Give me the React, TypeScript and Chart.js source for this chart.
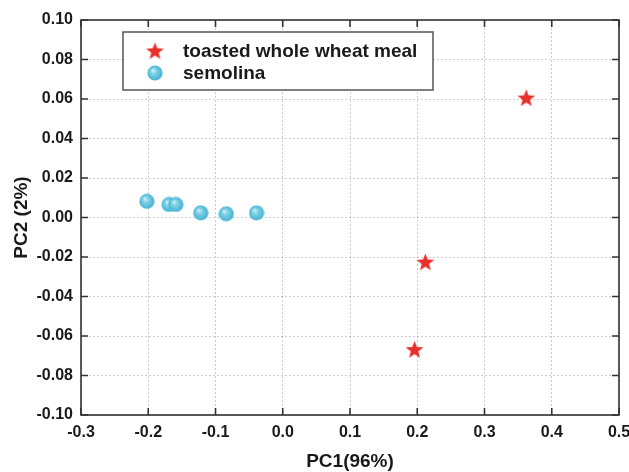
import React, { useEffect, useRef } from "react";
import { Chart, registerables } from "chart.js";

Chart.register(...registerables);

const toastedLabel = "toasted whole wheat meal";
const toastedX = [0.362, 0.212, 0.196];
const toastedY = [0.0605, -0.0226, -0.0669];

const semolinaLabel = "semolina";
const semolinaX = [-0.202, -0.169, -0.159, -0.122, -0.084, -0.039];
const semolinaY = [0.0082, 0.0066, 0.0066, 0.0024, 0.0019, 0.0024];

const xTitle = "PC1(96%)";
const yTitle = "PC2 (2%)";

const FONT = "'Liberation Sans', Arial, sans-serif";

function makeStar(): HTMLCanvasElement {
  const c = document.createElement("canvas");
  c.width = 19;
  c.height = 19;
  const ctx = c.getContext("2d")!;
  const cx = 9.5, cy = 10, R = 9.3, r = 3.9;
  ctx.beginPath();
  for (let i = 0; i < 10; i++) {
    const rad = i % 2 === 0 ? R : r;
    const a = -Math.PI / 2 + (i * Math.PI) / 5;
    const px = cx + rad * Math.cos(a);
    const py = cy + rad * Math.sin(a);
    if (i === 0) ctx.moveTo(px, py);
    else ctx.lineTo(px, py);
  }
  ctx.closePath();
  ctx.fillStyle = "#e8302a";
  ctx.fill();
  return c;
}

function makeBubble(): HTMLCanvasElement {
  const c = document.createElement("canvas");
  c.width = 16;
  c.height = 16;
  const ctx = c.getContext("2d")!;
  const g = ctx.createRadialGradient(6, 5.5, 0.5, 8, 8, 8);
  g.addColorStop(0, "#c9eef7");
  g.addColorStop(0.35, "#7ccfe4");
  g.addColorStop(1, "#40b1d1");
  ctx.beginPath();
  ctx.arc(8, 8, 7.6, 0, Math.PI * 2);
  ctx.fillStyle = g;
  ctx.fill();
  return c;
}

const framePlugin = {
  id: "frame",
  afterDatasetsDraw(chart: any) {
    const { ctx, chartArea } = chart;
    const { left, right, top, bottom } = chartArea;
    const xs = chart.scales.x;
    const ys = chart.scales.y;
    ctx.save();
    ctx.strokeStyle = "#333";
    ctx.lineWidth = 1.6;
    ctx.setLineDash([]);
    ctx.beginPath();
    const tl = 7;
    xs.ticks.forEach((t: any) => {
      const p = xs.getPixelForValue(t.value);
      ctx.moveTo(p, bottom);
      ctx.lineTo(p, bottom - tl);
      ctx.moveTo(p, top);
      ctx.lineTo(p, top + tl);
    });
    ys.ticks.forEach((t: any) => {
      const p = ys.getPixelForValue(t.value);
      ctx.moveTo(left, p);
      ctx.lineTo(left + tl, p);
      ctx.moveTo(right, p);
      ctx.lineTo(right - tl, p);
    });
    ctx.stroke();
    ctx.strokeRect(left, top, right - left, bottom - top);
    ctx.restore();
  },
  afterDraw(chart: any) {
    const { ctx, chartArea } = chart;
    const bx = chartArea.left + 42;
    const by = chartArea.top + 12;
    const bw = 310;
    const bh = 58;
    ctx.save();
    ctx.fillStyle = "#fff";
    ctx.fillRect(bx, by, bw, bh);
    ctx.strokeStyle = "#555";
    ctx.lineWidth = 1.5;
    ctx.strokeRect(bx, by, bw, bh);
    ctx.font = `bold 19px ${FONT}`;
    ctx.fillStyle = "#1a1a1a";
    ctx.textBaseline = "middle";
    ctx.textAlign = "left";
    chart.data.datasets.forEach((ds: any, i: number) => {
      const cy = by + 19 + i * 22;
      const img = ds.pointStyle as HTMLCanvasElement;
      ctx.drawImage(img, bx + 32 - img.width / 2, cy - img.height / 2);
      ctx.fillText(ds.label, bx + 60, cy + 1);
    });
    ctx.restore();
  },
};

export default function App() {
  const ref = useRef<HTMLCanvasElement | null>(null);
  useEffect(() => {
    if (!ref.current) return;
    const star = makeStar();
    const bubble = makeBubble();
    const chart = new Chart(ref.current, {
      type: "scatter",
      data: {
        datasets: [
          {
            label: toastedLabel,
            data: toastedX.map((x, i) => ({ x, y: toastedY[i] })),
            pointStyle: star as any,
            pointRadius: 9,
          },
          {
            label: semolinaLabel,
            data: semolinaX.map((x, i) => ({ x, y: semolinaY[i] })),
            pointStyle: bubble as any,
            pointRadius: 8,
          },
        ],
      },
      options: {
        responsive: false,
        animation: false,
        devicePixelRatio: 1,
        events: [],
        layout: { padding: { top: 20, right: 10, left: 0, bottom: 0 } },
        plugins: { legend: { display: false }, tooltip: { enabled: false } },
        scales: {
          x: {
            type: "linear",
            min: -0.3,
            max: 0.5,
            afterFit: (s: any) => {
              s.height = 57;
              s.paddingLeft = 0;
              s.paddingRight = 0;
            },
            ticks: {
              stepSize: 0.1,
              padding: 8,
              color: "#1a1a1a",
              font: { family: FONT, size: 16, weight: "bold" },
              callback: (v: any) => Number(v).toFixed(1),
              maxRotation: 0,
              autoSkip: false,
            },
            grid: { color: "rgba(0,0,0,0.2)", lineWidth: 1, drawTicks: false },
            border: { display: false, dash: [2, 2] },
            title: {
              display: true,
              text: xTitle,
              color: "#1a1a1a",
              font: { family: FONT, size: 19, weight: "bold", lineHeight: 1 },
              padding: { top: 0, bottom: 0.5 },
            },
          },
          y: {
            type: "linear",
            min: -0.1,
            max: 0.1,
            afterFit: (s: any) => {
              s.width = 81;
              s.paddingTop = 0;
              s.paddingBottom = 0;
            },
            ticks: {
              stepSize: 0.02,
              padding: 8,
              color: "#1a1a1a",
              font: { family: FONT, size: 16, weight: "bold" },
              callback: (v: any) => Number(v).toFixed(2),
              autoSkip: false,
            },
            grid: { color: "rgba(0,0,0,0.2)", lineWidth: 1, drawTicks: false },
            border: { display: false, dash: [2, 2] },
            title: {
              display: true,
              text: yTitle,
              color: "#1a1a1a",
              font: { family: FONT, size: 19, weight: "bold", lineHeight: 1.2 },
              padding: { top: 10.6, bottom: 0 },
            },
          },
        },
      },
      plugins: [framePlugin],
    });
    return () => chart.destroy();
  }, []);
  return (
    <div style={{ position: "fixed", left: 0, top: 0, width: 629, height: 472, background: "#fff" }}>
      <canvas ref={ref} width={629} height={472} style={{ display: "block" }} />
    </div>
  );
}
